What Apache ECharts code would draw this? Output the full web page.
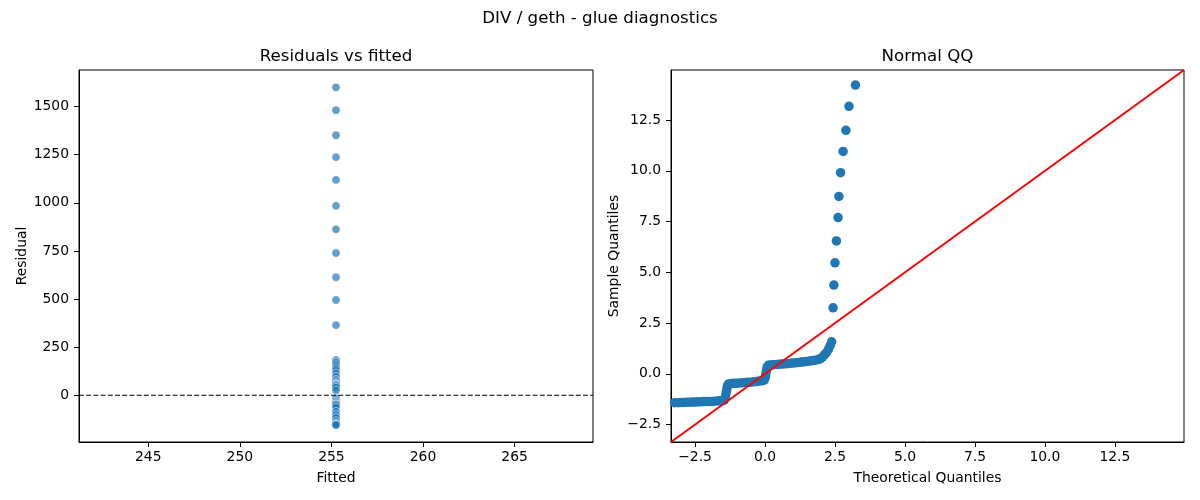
<!DOCTYPE html>
<html>
<head>
<meta charset="utf-8">
<script src="https://cdn.jsdelivr.net/npm/echarts@6/dist/echarts.min.js"></script>
<style>html,body{margin:0;padding:0;background:#fff}#c{width:1200px;height:500px}</style>
</head>
<body>
<div id="c"></div>
<script>
// ---- data ----
const fittedValue = 255.25;
const residuals = [1600, 1481, 1351, 1237, 1119, 984, 862, 739, 613, 495, 364,
  183, 171, 157, 143, 131, 114, 97, 80, 70, 62, 57, 57, 57, 52, 48, 40, 25,
  -16, -33, -40, -47, -47, -47, -53, -64, -85, -102, -116, -134, -146, -151, -151, -151, -155];
const qqTheoretical = [-3.23, -3.1, -3.0, -2.9, -2.8, -2.7, -2.6, -2.5, -2.4, -2.3, -2.2, -2.1, -2.0, -1.9, -1.8, -1.7, -1.6, -1.5,
  -1.45, -1.42, -1.40, -1.38, -1.36, -1.34, -1.30,
  -1.2, -1.1, -1.0, -0.9, -0.8, -0.7, -0.6, -0.5, -0.4, -0.3, -0.2, -0.1, -0.03,
  0.0, 0.02, 0.04, 0.06, 0.08, 0.12,
  0.2, 0.3, 0.4, 0.5, 0.6, 0.7, 0.8, 0.9, 1.0, 1.1, 1.2, 1.3, 1.4, 1.5, 1.6, 1.7, 1.8, 1.9, 1.97,
  2.05, 2.12, 2.2, 2.27, 2.33, 2.38,
  2.43, 2.46, 2.50, 2.55, 2.61, 2.64, 2.70, 2.79, 2.89, 3.0, 3.23];
const qqSample = [-1.42, -1.42, -1.41, -1.41, -1.40, -1.40, -1.39, -1.39, -1.38, -1.38, -1.37, -1.37, -1.36, -1.36, -1.35, -1.34, -1.33, -1.32,
  -1.28, -1.18, -1.02, -0.86, -0.70, -0.58, -0.50,
  -0.48, -0.47, -0.46, -0.45, -0.44, -0.43, -0.42, -0.41, -0.39, -0.38, -0.36, -0.34, -0.31,
  -0.22, -0.08, 0.08, 0.22, 0.34, 0.42,
  0.44, 0.45, 0.46, 0.47, 0.48, 0.49, 0.50, 0.52, 0.53, 0.55, 0.56, 0.58, 0.59, 0.61, 0.63, 0.65, 0.67, 0.70, 0.74,
  0.82, 0.93, 1.06, 1.22, 1.40, 1.58,
  3.25, 4.37, 5.47, 6.55, 7.70, 8.74, 9.91, 10.96, 12.0, 13.18, 14.23];
const leftXTicks = [245, 250, 255, 260, 265];
const leftYTicks = [0, 250, 500, 750, 1000, 1250, 1500];
const qqTicks = [-2.5, 0, 2.5, 5, 7.5, 10, 12.5];
const leftXRange = [241.22, 269.28];
const leftYRange = [-243, 1690];
const qqRange = [-3.36, 14.97];

// ---- chart ----
const FONT = '"DejaVu Sans", sans-serif';
const fmtQQ = v => Number(v).toFixed(1).replace('-', '\u2212');
function axisCommon(ticks, fmt, margin) {
  return {
    axisLine: { show: true, onZero: false, lineStyle: { color: '#000', width: 1 } },
    axisTick: { show: true, inside: false, length: 5, customValues: ticks, lineStyle: { color: '#000', width: 1 } },
    axisLabel: { show: true, customValues: ticks, formatter: fmt, color: '#000', fontSize: 13.9, fontFamily: FONT, margin: margin },
    splitLine: { show: false },
    nameTextStyle: { color: '#000', fontSize: 13.9, fontFamily: FONT },
    nameLocation: 'middle'
  };
}
const chart = echarts.init(document.getElementById('c'), null, { renderer: 'canvas' });
const option = {
  animation: false,
  backgroundColor: '#fff',
  grid: [
    { left: 79, top: 70, width: 514, height: 372, show: true, borderColor: '#000', borderWidth: 1, backgroundColor: 'transparent' },
    { left: 671, top: 70, width: 513, height: 372, show: true, borderColor: '#000', borderWidth: 1, backgroundColor: 'transparent' }
  ],
  xAxis: [
    Object.assign(axisCommon(leftXTicks, v => String(v), 8), { type: 'value', gridIndex: 0, min: leftXRange[0], max: leftXRange[1], name: 'Fitted', nameGap: 29 }),
    Object.assign(axisCommon(qqTicks, fmtQQ, 8), { type: 'value', gridIndex: 1, min: qqRange[0], max: qqRange[1], name: 'Theoretical Quantiles', nameGap: 29 })
  ],
  yAxis: [
    Object.assign(axisCommon(leftYTicks, v => String(v), 10), { type: 'value', gridIndex: 0, min: leftYRange[0], max: leftYRange[1], name: 'Residual', nameGap: 50 }),
    Object.assign(axisCommon(qqTicks, fmtQQ, 10), { type: 'value', gridIndex: 1, min: qqRange[0], max: qqRange[1], name: 'Sample Quantiles', nameGap: 50 })
  ],
  series: [
    {
      type: 'scatter', xAxisIndex: 0, yAxisIndex: 0, z: 2,
      data: residuals.map(r => [fittedValue, r]),
      symbolSize: 8.3,
      itemStyle: { color: '#1f77b4', opacity: 0.7, borderColor: '#ffffff', borderWidth: 0.7 },
      emphasis: { disabled: true }, silent: true
    },
    {
      type: 'line', xAxisIndex: 0, yAxisIndex: 0, z: 3,
      data: [[leftXRange[0], 0], [leftXRange[1], 0]],
      showSymbol: false, symbol: 'none',
      lineStyle: { color: '#000', width: 1.2, type: [5, 2.2] },
      silent: true
    },
    {
      type: 'scatter', xAxisIndex: 1, yAxisIndex: 1, z: 2,
      data: qqTheoretical.map((t, i) => [t, qqSample[i]]),
      symbolSize: 9.5,
      itemStyle: { color: '#1f77b4', opacity: 1 },
      emphasis: { disabled: true }, silent: true
    },
    {
      type: 'line', xAxisIndex: 1, yAxisIndex: 1, z: 3,
      data: [[qqRange[0], qqRange[0]], [qqRange[1], qqRange[1]]],
      showSymbol: false, symbol: 'none', clip: true,
      lineStyle: { color: '#ff0000', width: 2 },
      silent: true
    }
  ],
  graphic: [
    { type: 'text', x: 600, y: 19, style: { text: 'DIV / geth - glue diagnostics', fontSize: 16.67, fontFamily: FONT, fill: '#000', align: 'center', verticalAlign: 'middle' } },
    { type: 'text', x: 336, y: 57, style: { text: 'Residuals vs fitted', fontSize: 16.67, fontFamily: FONT, fill: '#000', align: 'center', verticalAlign: 'middle' } },
    { type: 'text', x: 927.5, y: 57, style: { text: 'Normal QQ', fontSize: 16.67, fontFamily: FONT, fill: '#000', align: 'center', verticalAlign: 'middle' } }
  ]
};
chart.setOption(option);
</script>
</body>
</html>
